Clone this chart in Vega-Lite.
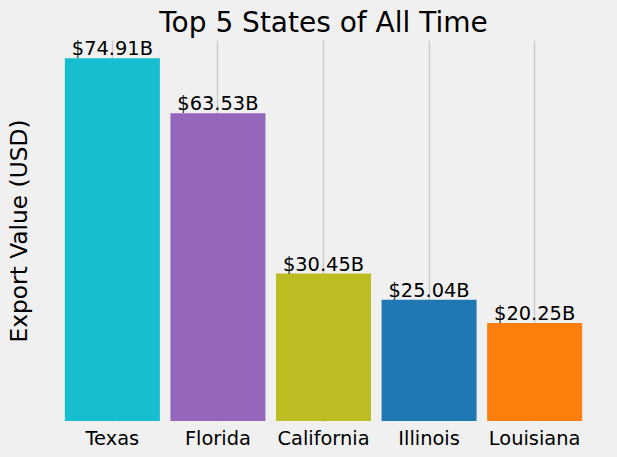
{
  "$schema": "https://vega.github.io/schema/vega-lite/v6.json",
  "width": 569,
  "height": 381,
  "autosize": {"type": "none"},
  "padding": {"left": 39, "top": 40, "right": 9, "bottom": 36},
  "background": "#f0f0f0",
  "config": {"view": {"stroke": null}, "font": "DejaVu Sans"},
  "title": {
    "text": "Top 5 States of All Time",
    "fontSize": 28,
    "font": "DejaVu Sans",
    "fontWeight": "normal",
    "color": "#000000",
    "anchor": "middle",
    "baseline": "alphabetic",
    "offset": -21
  },
  "data": {
    "values": [
      {"state": "Texas", "value": 74.91, "label": "$74.91B"},
      {"state": "Florida", "value": 63.53, "label": "$63.53B"},
      {"state": "California", "value": 30.45, "label": "$30.45B"},
      {"state": "Illinois", "value": 25.04, "label": "$25.04B"},
      {"state": "Louisiana", "value": 20.25, "label": "$20.25B"}
    ]
  },
  "encoding": {
    "x": {
      "field": "state",
      "type": "nominal",
      "sort": null,
      "scale": {"paddingInner": 0.1, "paddingOuter": 0.245},
      "axis": {
        "title": null,
        "labelAngle": 0,
        "labelFontSize": 19.4,
        "labelColor": "#000000",
        "labelFont": "DejaVu Sans",
        "ticks": false,
        "domain": false,
        "grid": true,
        "gridColor": "#cbcbcb",
        "gridWidth": 1.4,
        "labelPadding": 8,
        "bandPosition": 0.5
      }
    },
    "y": {
      "field": "value",
      "type": "quantitative",
      "scale": {"domain": [0, 78.6555], "nice": false, "zero": true},
      "axis": {
        "title": "Export Value (USD)",
        "titleFontSize": 23.3,
        "titleFontWeight": "normal",
        "titleColor": "#000000",
        "titleFont": "DejaVu Sans",
        "titlePadding": 8,
        "labels": false,
        "ticks": false,
        "domain": false,
        "grid": false
      }
    }
  },
  "layer": [
    {
      "mark": {"type": "bar"},
      "encoding": {
        "color": {
          "field": "state",
          "type": "nominal",
          "scale": {
            "domain": ["Texas", "Florida", "California", "Illinois", "Louisiana"],
            "range": ["#17becf", "#9467bd", "#bcbd22", "#1f77b4", "#ff7f0e"]
          },
          "legend": null
        }
      }
    },
    {
      "mark": {"type": "text", "baseline": "alphabetic", "dy": -3, "fontSize": 19.4, "font": "DejaVu Sans", "color": "#000000"},
      "encoding": {"text": {"field": "label"}}
    }
  ]
}
